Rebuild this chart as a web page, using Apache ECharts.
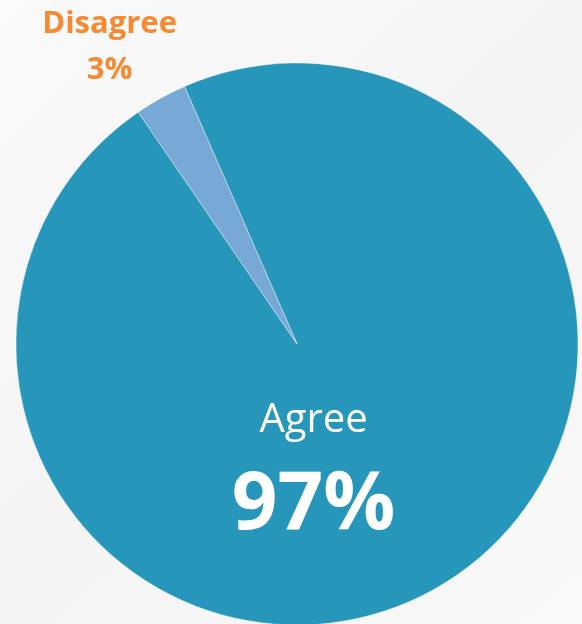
<!DOCTYPE html>
<html>
<head>
<meta charset="utf-8">
<script src="https://cdn.jsdelivr.net/npm/echarts@6/dist/echarts.min.js"></script>
<style>html,body{margin:0;padding:0;background:#f7f7f7;}#c{width:582px;height:624px;}</style>
</head>
<body>
<div id="c"></div>
<script>
const categories = ['Agree', 'Disagree'];
const values = [97, 3];
const colors = ['#2796bb', '#78a8d6'];

const chart = echarts.init(document.getElementById('c'));
chart.setOption({
  backgroundColor: new echarts.graphic.LinearGradient(0, 0, 1, 1, [
    {offset: 0, color: '#fafafa'}, {offset: 0.5, color: '#f4f4f4'}, {offset: 1, color: '#f9f9f9'}
  ]),
  animation: false,
  series: [{
    type: 'pie',
    center: [297, 344],
    radius: 281,
    startAngle: 113.6,
    clockwise: true,
    itemStyle: {borderColor: 'rgba(255,255,255,0.6)', borderWidth: 0.6},
    labelLine: {show: false, length: 12, length2: 0},
    labelLayout: function (p) {
      const r = p.labelRect;
      if (p.dataIndex === 0) {
        return {dx: -53, dy: -3};
      }
      return {
        x: r.x + r.width / 2 + 27,
        y: r.y + r.height / 2 - 41,
        align: 'center',
        verticalAlign: 'middle'
      };
    },
    data: categories.map((c, i) => ({
      name: c,
      value: values[i],
      itemStyle: {color: colors[i]},
      label: i === 0 ? {
        show: true,
        position: 'inside',
        formatter: '{a|{b}}\n{b|{c}%}',
        rich: {
          a: {fontFamily: 'Open Sans', fontSize: 40, color: '#fff', lineHeight: 80, fontWeight: 'normal'},
          b: {fontFamily: 'Open Sans', fontSize: 80, color: '#fff', fontWeight: 'bold', lineHeight: 92}
        }
      } : {
        show: true,
        position: 'outside',
        formatter: '{b}\n{c}%',
        fontFamily: 'Open Sans',
        fontSize: 31,
        fontWeight: 'bold',
        color: '#f58a33',
        lineHeight: 46,
        align: 'center'
      }
    }))
  }]
});
</script>
</body>
</html>
